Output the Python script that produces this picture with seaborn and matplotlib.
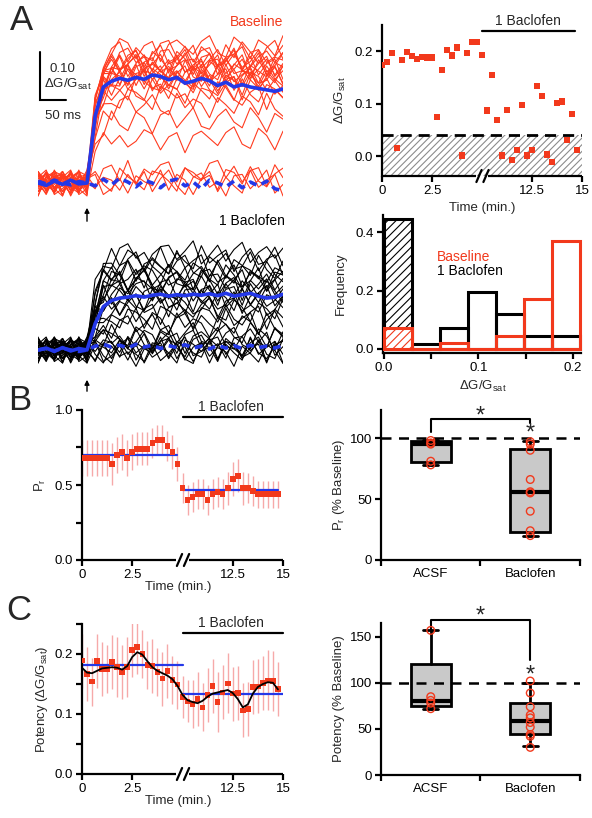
import numpy as np
import pandas as pd
import matplotlib
matplotlib.use("Agg")
import matplotlib.pyplot as plt
import seaborn as sns

# ---------------- data ----------------
trial_min = [i * 0.25 for i in range(20)] + [10 + i * 0.25 for i in range(20)]

amp_trials = [0.173, 0.179, 0.197, 0.016, 0.183, 0.198, 0.191, 0.185, 0.189, 0.188,
              0.188, 0.074, 0.164, 0.202, 0.192, 0.207, 0.001, 0.196, 0.217, 0.218,
              0.193, 0.087, 0.155, 0.069, 0.001, 0.088, -0.007, 0.011, 0.097, 0.001,
              0.011, 0.133, 0.115, 0.003, -0.012, 0.101, 0.104, 0.030, 0.080, 0.012]
threshold = 0.04

pr_trials = [0.68, 0.68, 0.68, 0.68, 0.68, 0.68, 0.64, 0.70, 0.72, 0.68,
             0.72, 0.74, 0.74, 0.74, 0.78, 0.80, 0.80, 0.76, 0.72, 0.64,
             0.48, 0.40, 0.42, 0.44, 0.44, 0.40, 0.44, 0.455, 0.44, 0.48,
             0.54, 0.56, 0.48, 0.48, 0.46, 0.44, 0.44, 0.44, 0.44, 0.44]
pr_err = [0.12, 0.12, 0.12, 0.12, 0.12, 0.12, 0.14, 0.12, 0.12, 0.12,
          0.12, 0.11, 0.11, 0.11, 0.10, 0.10, 0.10, 0.10, 0.11, 0.11,
          0.10, 0.10, 0.10, 0.10, 0.10, 0.10, 0.10, 0.10, 0.10, 0.11,
          0.11, 0.11, 0.11, 0.10, 0.10, 0.09, 0.09, 0.09, 0.09, 0.09]
pr_means = [0.70, 0.467]

pot_trials = [0.189, 0.167, 0.154, 0.188, 0.175, 0.175, 0.187, 0.178, 0.170, 0.178,
              0.207, 0.212, 0.200, 0.182, 0.180, 0.170, 0.159, 0.172, 0.157, 0.149,
              0.128, 0.121, 0.117, 0.125, 0.111, 0.132, 0.147, 0.120, 0.136, 0.151,
              0.134, 0.135, 0.106, 0.108, 0.145, 0.146, 0.152, 0.156, 0.155, 0.142]
pot_err = [0.045, 0.045, 0.040, 0.045, 0.045, 0.040, 0.045, 0.050, 0.045, 0.050,
           0.045, 0.045, 0.040, 0.040, 0.045, 0.040, 0.045, 0.045, 0.040, 0.040,
           0.035, 0.035, 0.040, 0.045, 0.040, 0.045, 0.045, 0.050, 0.045, 0.050,
           0.045, 0.045, 0.045, 0.045, 0.045, 0.045, 0.045, 0.050, 0.050, 0.045]
pot_smooth = [0.177, 0.169, 0.168, 0.172, 0.176, 0.177, 0.178, 0.177, 0.174, 0.180,
              0.195, 0.203, 0.199, 0.188, 0.178, 0.172, 0.168, 0.164, 0.158, 0.147,
              0.132, 0.123, 0.120, 0.118, 0.122, 0.129, 0.134, 0.136, 0.138, 0.140,
              0.135, 0.125, 0.111, 0.116, 0.134, 0.145, 0.150, 0.153, 0.152, 0.141]
pot_means = [0.181, 0.133]

hist_edges = [0.0, 0.0297, 0.0594, 0.0891, 0.1188, 0.1485, 0.1782, 0.2079]
hist_base = [0.07, 0.0, 0.02, 0.0, 0.045, 0.17, 0.37]
hist_bac = [0.445, 0.015, 0.07, 0.195, 0.12, 0.045, 0.045]

groups = ["ACSF", "Baclofen"]
pr_box_lo = [78, 20]
pr_box_q1 = [80, 23]
pr_box_med = [95, 56]
pr_box_q3 = [97.5, 91]
pr_box_hi = [98, 97.5]
pr_acsf_pts = [98, 96, 95, 81, 78]
pr_bac_pts = [97, 95, 90, 66, 56, 55, 40, 24, 20]

pot_box_lo = [72, 31]
pot_box_q1 = [75, 44]
pot_box_med = [80, 59]
pot_box_q3 = [121, 78]
pot_box_hi = [157, 100]
pot_acsf_pts = [157, 85, 81, 78, 72]
pot_bac_pts = [102, 89, 74, 65, 62, 57, 52, 44, 42, 30]

# example traces (ms relative to stimulus)
trace_t = list(range(-96, 385, 16))
rise_shape = [0, 0, 0, 0, 0, 0, 0, 0.6, 0.9, 0.97] + [1.0] * 21
base_mean = [0.0, -0.005, 0.004, -0.003, 0.006, -0.002, 0.0, 0.14, 0.2, 0.212,
             0.218, 0.214, 0.22, 0.216, 0.225, 0.222, 0.215, 0.22, 0.208, 0.212,
             0.218, 0.213, 0.203, 0.21, 0.2, 0.205, 0.2, 0.197, 0.194, 0.191, 0.196]
base_fail = [0.004, -0.002, 0.006, 0.0, -0.004, 0.003, 0.0, -0.006, 0.008, -0.004,
             0.01, 0.002, -0.008, 0.006, 0.0, -0.01, 0.004, 0.008, -0.006, 0.002,
             -0.012, 0.006, 0.0, -0.008, 0.004, -0.01, 0.002, -0.006, 0.004, -0.012, -0.016]
bac_mean = [0.0, 0.004, -0.003, 0.005, -0.002, 0.003, 0.0, 0.055, 0.09, 0.103,
            0.108, 0.11, 0.113, 0.11, 0.114, 0.116, 0.112, 0.115, 0.113, 0.116,
            0.114, 0.117, 0.113, 0.118, 0.112, 0.115, 0.118, 0.112, 0.108, 0.11, 0.116]
bac_fail = [0.0, 0.003, -0.002, 0.004, 0.0, -0.003, 0.0, 0.008, 0.012, 0.006,
            0.01, 0.004, 0.012, 0.006, 0.01, 0.003, 0.009, 0.005, 0.011, 0.004,
            0.008, 0.002, 0.01, 0.004, 0.009, 0.003, 0.01, 0.005, 0.008, 0.004, 0.01]
base_trace_amp = [0.26, 0.24, 0.22, 0.25, 0.21, 0.23, 0.27, 0.20, 0.24, 0.22,
                  0.19, 0.25, 0.23, 0.28, 0.21, 0.18, 0.24, 0.22, 0.16, 0.26,
                  0.13, 0.09, 0.02, 0.01, 0.0, 0.0]
bac_trace_amp = [0.20, 0.18, 0.16, 0.15, 0.14, 0.17, 0.12, 0.13, 0.11, 0.19,
                 0.10, 0.09, 0.15, 0.08, 0.12, 0.07, 0.14, 0.06, 0.05, 0.10,
                 0.03, 0.02, 0.0, 0.0, 0.01, 0.0, -0.01, 0.0, 0.02, 0.0]
wiggle_rows = [
    [0.2, -0.5, 0.6, -0.1, 0.8, -0.6, 0.3, 0.9, -0.2, -0.8, 0.4, 0.7, -0.3, 0.1, -0.9, 0.5, 0.6, -0.4, 0.2, 0.9, -0.7, -0.1, 0.6, -0.5, 0.3, 0.8, -0.6, 0.1, 0.5, -0.3, 0.4],
    [-0.4, 0.3, -0.7, 0.5, 0.1, -0.2, 0.9, -0.5, 0.6, 0.2, -0.8, 0.3, 0.8, -0.6, 0.4, -0.2, -0.7, 0.9, -0.3, 0.2, 0.6, -0.9, 0.1, 0.7, -0.4, -0.2, 0.8, -0.5, 0.3, 0.6, -0.8],
    [0.6, -0.1, 0.2, -0.8, 0.4, 0.7, -0.4, 0.1, 0.8, -0.3, -0.6, 0.9, -0.1, 0.5, 0.2, -0.8, 0.6, 0.1, -0.5, 0.7, 0.3, -0.6, 0.9, -0.2, -0.7, 0.5, 0.2, -0.4, 0.8, -0.1, -0.6],
    [-0.2, 0.7, -0.3, 0.4, -0.9, 0.2, 0.5, -0.6, 0.3, 0.9, -0.4, -0.1, 0.6, -0.7, 0.8, 0.3, -0.5, -0.2, 0.7, -0.8, 0.4, 0.6, -0.3, 0.1, 0.9, -0.6, -0.2, 0.7, -0.9, 0.4, 0.2],
    [0.5, 0.1, -0.6, 0.8, -0.3, -0.7, 0.6, 0.2, -0.9, 0.4, 0.7, -0.5, 0.2, 0.9, -0.4, -0.6, 0.3, 0.8, -0.1, -0.5, 0.9, 0.2, -0.8, 0.5, 0.1, -0.3, 0.7, 0.4, -0.6, 0.2, 0.8],
    [-0.6, 0.4, 0.8, -0.2, 0.3, -0.5, -0.1, 0.7, 0.4, -0.7, 0.2, 0.5, -0.9, 0.3, 0.6, 0.1, -0.4, 0.5, 0.9, -0.3, -0.6, 0.8, 0.3, -0.7, 0.6, 0.2, -0.5, 0.9, -0.1, -0.7, 0.5],
    [0.1, -0.8, 0.4, 0.6, -0.5, 0.9, -0.7, 0.3, -0.1, 0.6, 0.8, -0.6, 0.4, -0.2, -0.5, 0.7, 0.9, -0.3, 0.5, -0.6, 0.2, 0.4, -0.9, 0.6, -0.3, 0.8, 0.1, -0.7, 0.4, 0.9, -0.4],
    [0.3, 0.6, -0.4, -0.9, 0.7, 0.1, -0.3, -0.8, 0.5, 0.3, -0.2, -0.9, 0.7, 0.4, -0.1, 0.2, -0.8, 0.6, 0.4, -0.4, 0.8, -0.2, -0.6, 0.3, 0.7, -0.9, 0.5, -0.1, 0.6, -0.5, 0.1],
]

# ---------------- style ----------------
sns.set_style("ticks")
plt.rcParams["font.family"] = ["Liberation Sans", "DejaVu Sans"]
plt.rcParams["mathtext.fontset"] = "custom"
plt.rcParams["mathtext.rm"] = "Liberation Sans"
plt.rcParams["mathtext.it"] = "Liberation Sans:italic"
plt.rcParams["mathtext.bf"] = "Liberation Sans:bold"
plt.rcParams["hatch.linewidth"] = 0.8

RED = "#f2391c"
TRACE_RED = "#ff3b1f"
BLUE = "#2438e8"
PINK = "#f6a9a9"
BOXGRAY = "#c9c9c9"
LW = 1.6
TS = 9.5
W, H = 592, 818
DG = "ΔG/G$_{\\mathrm{sat}}$"

fig = plt.figure(figsize=(W / 100, H / 100), dpi=100)


def add_ax(l, t, r, b):
    return fig.add_axes([l / W, 1 - b / H, (r - l) / W, (b - t) / H])


def style(ax):
    for s in ["top", "right"]:
        ax.spines[s].set_visible(False)
    for s in ["left", "bottom"]:
        ax.spines[s].set_linewidth(LW)
        ax.spines[s].set_color("k")
    ax.tick_params(which="both", direction="out", length=4.5, width=LW,
                   colors="k", labelsize=TS, pad=2)


def fwd(t):
    t = np.asarray(t, dtype=float)
    return np.where(t <= 5, t, np.where(t >= 10, t - 5, 5.0))


def inv(x):
    x = np.asarray(x, dtype=float)
    return np.where(x <= 5, x, x + 5)


def time_axis(ax):
    ax.set_xscale("function", functions=(fwd, inv))
    ax.set_xlim(0, 15)
    ax.set_xticks([0, 2.5, 12.5, 15])
    ax.set_xticklabels(["0", "2.5", "12.5", "15"])
    ax.spines["bottom"].set_visible(False)
    tr = ax.get_xaxis_transform()
    ax.plot([0, 4.68], [0, 0], transform=tr, color="k", lw=LW, clip_on=False,
            solid_capstyle="butt")
    ax.plot([10.3, 15], [0, 0], transform=tr, color="k", lw=LW, clip_on=False,
            solid_capstyle="butt")
    for xc in (0.485, 0.52):
        ax.plot([xc - 0.013, xc + 0.013], [-0.04, 0.04], transform=ax.transAxes,
                color="k", lw=LW, clip_on=False)


# ---------------- A: traces ----------------
def draw_traces(ax, amps, color, mean, fail):
    rows = []
    for k, a in enumerate(amps):
        w = np.roll(wiggle_rows[k % 8], 3 * (k // 8))
        v = a * np.array(rise_shape) + 0.03 * w
        for tt, vv in zip(trace_t, v):
            rows.append((k, tt, vv))
    df = pd.DataFrame(rows, columns=["trace", "t", "v"])
    sns.lineplot(data=df, x="t", y="v", units="trace", estimator=None,
                 color=color, linewidth=0.8, ax=ax, legend=False)
    sns.lineplot(x=trace_t, y=mean, color=BLUE, linewidth=2.6, ax=ax)
    ax.plot(trace_t, fail, color=BLUE, linewidth=2.6, dashes=(2.2, 1.6))
    ax.set_xlim(-96, 384)
    ax.axis("off")


axT = add_ax(38, 15, 283, 207)
draw_traces(axT, base_trace_amp, TRACE_RED, base_mean, base_fail)
axT.set_ylim(-0.05, 0.35)
# scale bar
axT.plot([-92, -92, -42], [0.273, 0.173, 0.173], color="k", lw=1.5,
         solid_joinstyle="miter")
axT.text(-73, 0.238, "0.10", fontsize=TS, ha="left", va="center")
axT.text(-84, 0.205, DG, fontsize=TS, ha="left", va="center")
axT.text(-82, 0.14, "50 ms", fontsize=TS, ha="left", va="center")
fig.text(283 / W, 1 - 22 / H, "Baseline", color=RED, fontsize=10, ha="right", va="center")

axB = add_ax(38, 225, 283, 375)
draw_traces(axB, bac_trace_amp, "black", bac_mean, bac_fail)
axB.set_ylim(-0.052, 0.26)
fig.text(285 / W, 1 - 221 / H, "1 Baclofen", color="k", fontsize=10, ha="right", va="center")

for y0, y1 in ((205, 224), (377, 394)):
    fig.add_artist(matplotlib.patches.FancyArrowPatch(
        (87 / W, 1 - y1 / H), (87 / W, 1 - y0 / H), transform=fig.transFigure,
        arrowstyle="-|>", mutation_scale=7, color="k", lw=1))

# ---------------- A: amplitude vs time ----------------
axS = add_ax(382, 25, 582, 176)
style(axS)
axS.axhspan(-0.038, threshold, facecolor="none", edgecolor="#8c8c8c",
            hatch="/////", lw=0, zorder=0)
axS.axhline(threshold, color="k", lw=2, dashes=(4, 2.5), zorder=1)
sns.scatterplot(x=trial_min, y=amp_trials, marker="s", s=20, color=RED,
                edgecolor="none", ax=axS, zorder=3)
time_axis(axS)
axS.set_ylim(-0.038, 0.25)
axS.set_yticks([0.0, 0.1, 0.2])
axS.set_yticklabels(["0.0", "0.1", "0.2"])
axS.set_xlabel("Time (min.)", fontsize=TS)
axS.set_ylabel(DG, fontsize=TS)
axS.xaxis.set_label_coords(0.5, -0.17)
axS.yaxis.set_label_coords(-0.17, 0.5)
axS.plot([10, 14.67], [0.2386, 0.2386], color="k", lw=LW, clip_on=False)
axS.text(12.3, 0.258, "1 Baclofen", fontsize=10, ha="center", va="center")

# ---------------- A: histogram ----------------
axH = add_ax(383, 215, 583, 353)
style(axH)
hist_centers = [(a + b) / 2 for a, b in zip(hist_edges[:-1], hist_edges[1:])]
sns.histplot(x=hist_centers, weights=hist_bac, bins=hist_edges, fill=False,
             color="black", linewidth=2.2, ax=axH, zorder=2)
n_bac = len(axH.patches)
sns.histplot(x=hist_centers, weights=hist_base, bins=hist_edges, fill=False,
             color=RED, linewidth=2.2, ax=axH, zorder=3)
bac_p = axH.patches[:n_bac]
base_p = axH.patches[n_bac:]
for p in bac_p:
    p.set_zorder(2)
for p in base_p:
    p.set_zorder(3)
bac_p[0].set_hatch("////")
base_p[0].set_fill(True)
base_p[0].set_facecolor("white")
base_p[0].set_hatch("////")
axH.set_xlim(-0.001, 0.2106)
axH.set_ylim(-0.015, 0.46)
axH.spines["bottom"].set_bounds(-0.001, 0.208)
axH.set_xticks([0.0, 0.1, 0.2])
axH.set_xticklabels(["0.0", "0.1", "0.2"])
axH.set_xticks([0.05, 0.15], minor=True)
axH.set_yticks([0.0, 0.2, 0.4])
axH.set_yticklabels(["0.0", "0.2", "0.4"])
axH.set_xlabel(DG, fontsize=TS)
axH.set_ylabel("Frequency", fontsize=TS)
axH.xaxis.set_label_coords(0.5, -0.19)
axH.yaxis.set_label_coords(-0.18, 0.5)
fig.text(437 / W, 1 - 257 / H, "Baseline", color=RED, fontsize=10, va="center")
fig.text(437 / W, 1 - 271 / H, "1 Baclofen", color="k", fontsize=10, va="center")


# ---------------- B & C: time courses ----------------
def time_course(ax, vals, errs, means, ylim, smooth=None):
    style(ax)
    ax.errorbar(trial_min, vals, yerr=errs, fmt="none", ecolor=PINK,
                elinewidth=1.0, zorder=1)
    sns.scatterplot(x=trial_min, y=vals, marker="s", s=16, color=RED,
                    edgecolor="none", ax=ax, zorder=3)
    if smooth is not None:
        sns.lineplot(x=trial_min, y=smooth, color="k", linewidth=1.3, ax=ax, zorder=4)
    ax.plot([0, 4.75 if smooth is None else 5.0], [means[0], means[0]],
            color=BLUE, lw=1.6, zorder=2)
    ax.plot([10, 14.75 if smooth is None else 15.0], [means[1], means[1]],
            color=BLUE, lw=1.6, zorder=2)
    time_axis(ax)
    ax.set_ylim(*ylim)
    ax.set_xlabel("Time (min.)", fontsize=TS)


axPr = add_ax(82, 410, 283, 560)
time_course(axPr, pr_trials, pr_err, pr_means, (0, 1.0))
axPr.set_yticks([0.0, 0.5, 1.0])
axPr.set_yticklabels(["0.0", "0.5", "1.0"])
axPr.set_yticks([0.25, 0.75], minor=True)
axPr.set_ylabel("P$_{\\mathrm{r}}$", fontsize=TS)
axPr.xaxis.set_label_coords(0.48, -0.14)
axPr.yaxis.set_label_coords(-0.17, 0.5)
axPr.plot([10, 15], [0.953, 0.953], color="k", lw=LW, clip_on=False)
axPr.text(12.4, 1.02, "1 Baclofen", fontsize=10, ha="center", va="center")

axPo = add_ax(82, 624, 283, 774)
time_course(axPo, pot_trials, pot_err, pot_means, (0, 0.25), smooth=pot_smooth)
axPo.set_yticks([0.0, 0.1, 0.2])
axPo.set_yticklabels(["0.0", "0.1", "0.2"])
axPo.set_yticks([0.05, 0.15, 0.25], minor=True)
axPo.set_ylabel("Potency (" + DG + ")", fontsize=TS)
axPo.xaxis.set_label_coords(0.48, -0.14)
axPo.yaxis.set_label_coords(-0.16, 0.5)
axPo.plot([10, 15], [0.235, 0.235], color="k", lw=LW, clip_on=False)
axPo.text(12.4, 0.252, "1 Baclofen", fontsize=10, ha="center", va="center")


# ---------------- B & C: box plots ----------------
def box_panel(ax, lo, q1, med, q3, hi, pts_a, pts_b, ylim, yticks, ylabel):
    style(ax)
    df = pd.DataFrame({"g": ["ACSF"] * len(pts_a) + ["Baclofen"] * len(pts_b),
                       "v": pts_a + pts_b})
    sns.stripplot(data=df, x="g", y="v", order=groups, jitter=False, size=5.5,
                  color=RED, linewidth=1, ax=ax)
    for c in ax.collections:
        c.set_facecolor("none")
        c.set_edgecolor(RED)
        c.set_linewidth(1.0)
        c.set_zorder(5)
    stats = [dict(whislo=lo[i], q1=q1[i], med=med[i], q3=q3[i], whishi=hi[i],
                  label=groups[i]) for i in range(2)]
    ax.bxp(stats, positions=[0, 1], widths=0.4, patch_artist=True, showfliers=False,
           manage_ticks=False, capwidths=0.15,
           boxprops=dict(facecolor=BOXGRAY, edgecolor="k", linewidth=2),
           medianprops=dict(color="k", linewidth=3, solid_capstyle="butt"),
           whiskerprops=dict(color="k", linewidth=2),
           capprops=dict(color="k", linewidth=2))
    ax.axhline(100, color="k", lw=1.8, dashes=(4, 3), zorder=3)
    ax.set_xlim(-0.5, 1.5)
    ax.set_ylim(*ylim)
    ax.set_xticks([0, 1])
    ax.set_xticklabels(groups)
    ax.set_xticks([-0.5, 0.5, 1.5], minor=True)
    ax.tick_params(axis="x", which="major", length=0, pad=6)
    ax.set_yticks(yticks)
    ax.set_yticklabels([str(v) for v in yticks])
    ax.set_xlabel("")
    ax.set_ylabel(ylabel, fontsize=TS)


axPrB = add_ax(381, 410, 580, 560)
box_panel(axPrB, pr_box_lo, pr_box_q1, pr_box_med, pr_box_q3, pr_box_hi,
          pr_acsf_pts, pr_bac_pts, (0, 123), [0, 50, 100], "P$_{\\mathrm{r}}$ (% Baseline)")
axPrB.yaxis.set_label_coords(-0.17, 0.5)
axPrB.plot([0, 0, 1, 1], [105, 116, 116, 112], color="k", lw=1.5, clip_on=False)
axPrB.text(0.5, 118, "*", fontsize=17, ha="center", va="center")
axPrB.text(1, 103.5, "*", fontsize=17, ha="center", va="center")

axPoB = add_ax(381, 623, 580, 775)
box_panel(axPoB, pot_box_lo, pot_box_q1, pot_box_med, pot_box_q3, pot_box_hi,
          pot_acsf_pts, pot_bac_pts, (0, 165), [0, 50, 100, 150], "Potency (% Baseline)")
axPoB.yaxis.set_label_coords(-0.18, 0.5)
axPoB.plot([0, 0, 1, 1], [157, 168.5, 168.5, 125], color="k", lw=1.5, clip_on=False)
axPoB.text(0.5, 172, "*", fontsize=17, ha="center", va="center")
axPoB.text(1, 108, "*", fontsize=17, ha="center", va="center")

# panel letters
for lab, x, y in (("A", 21, 20), ("B", 20, 400), ("C", 19, 610)):
    fig.text(x / W, 1 - y / H, lab, fontsize=25, ha="center", va="center")

fig.savefig("out.png", dpi=100)
